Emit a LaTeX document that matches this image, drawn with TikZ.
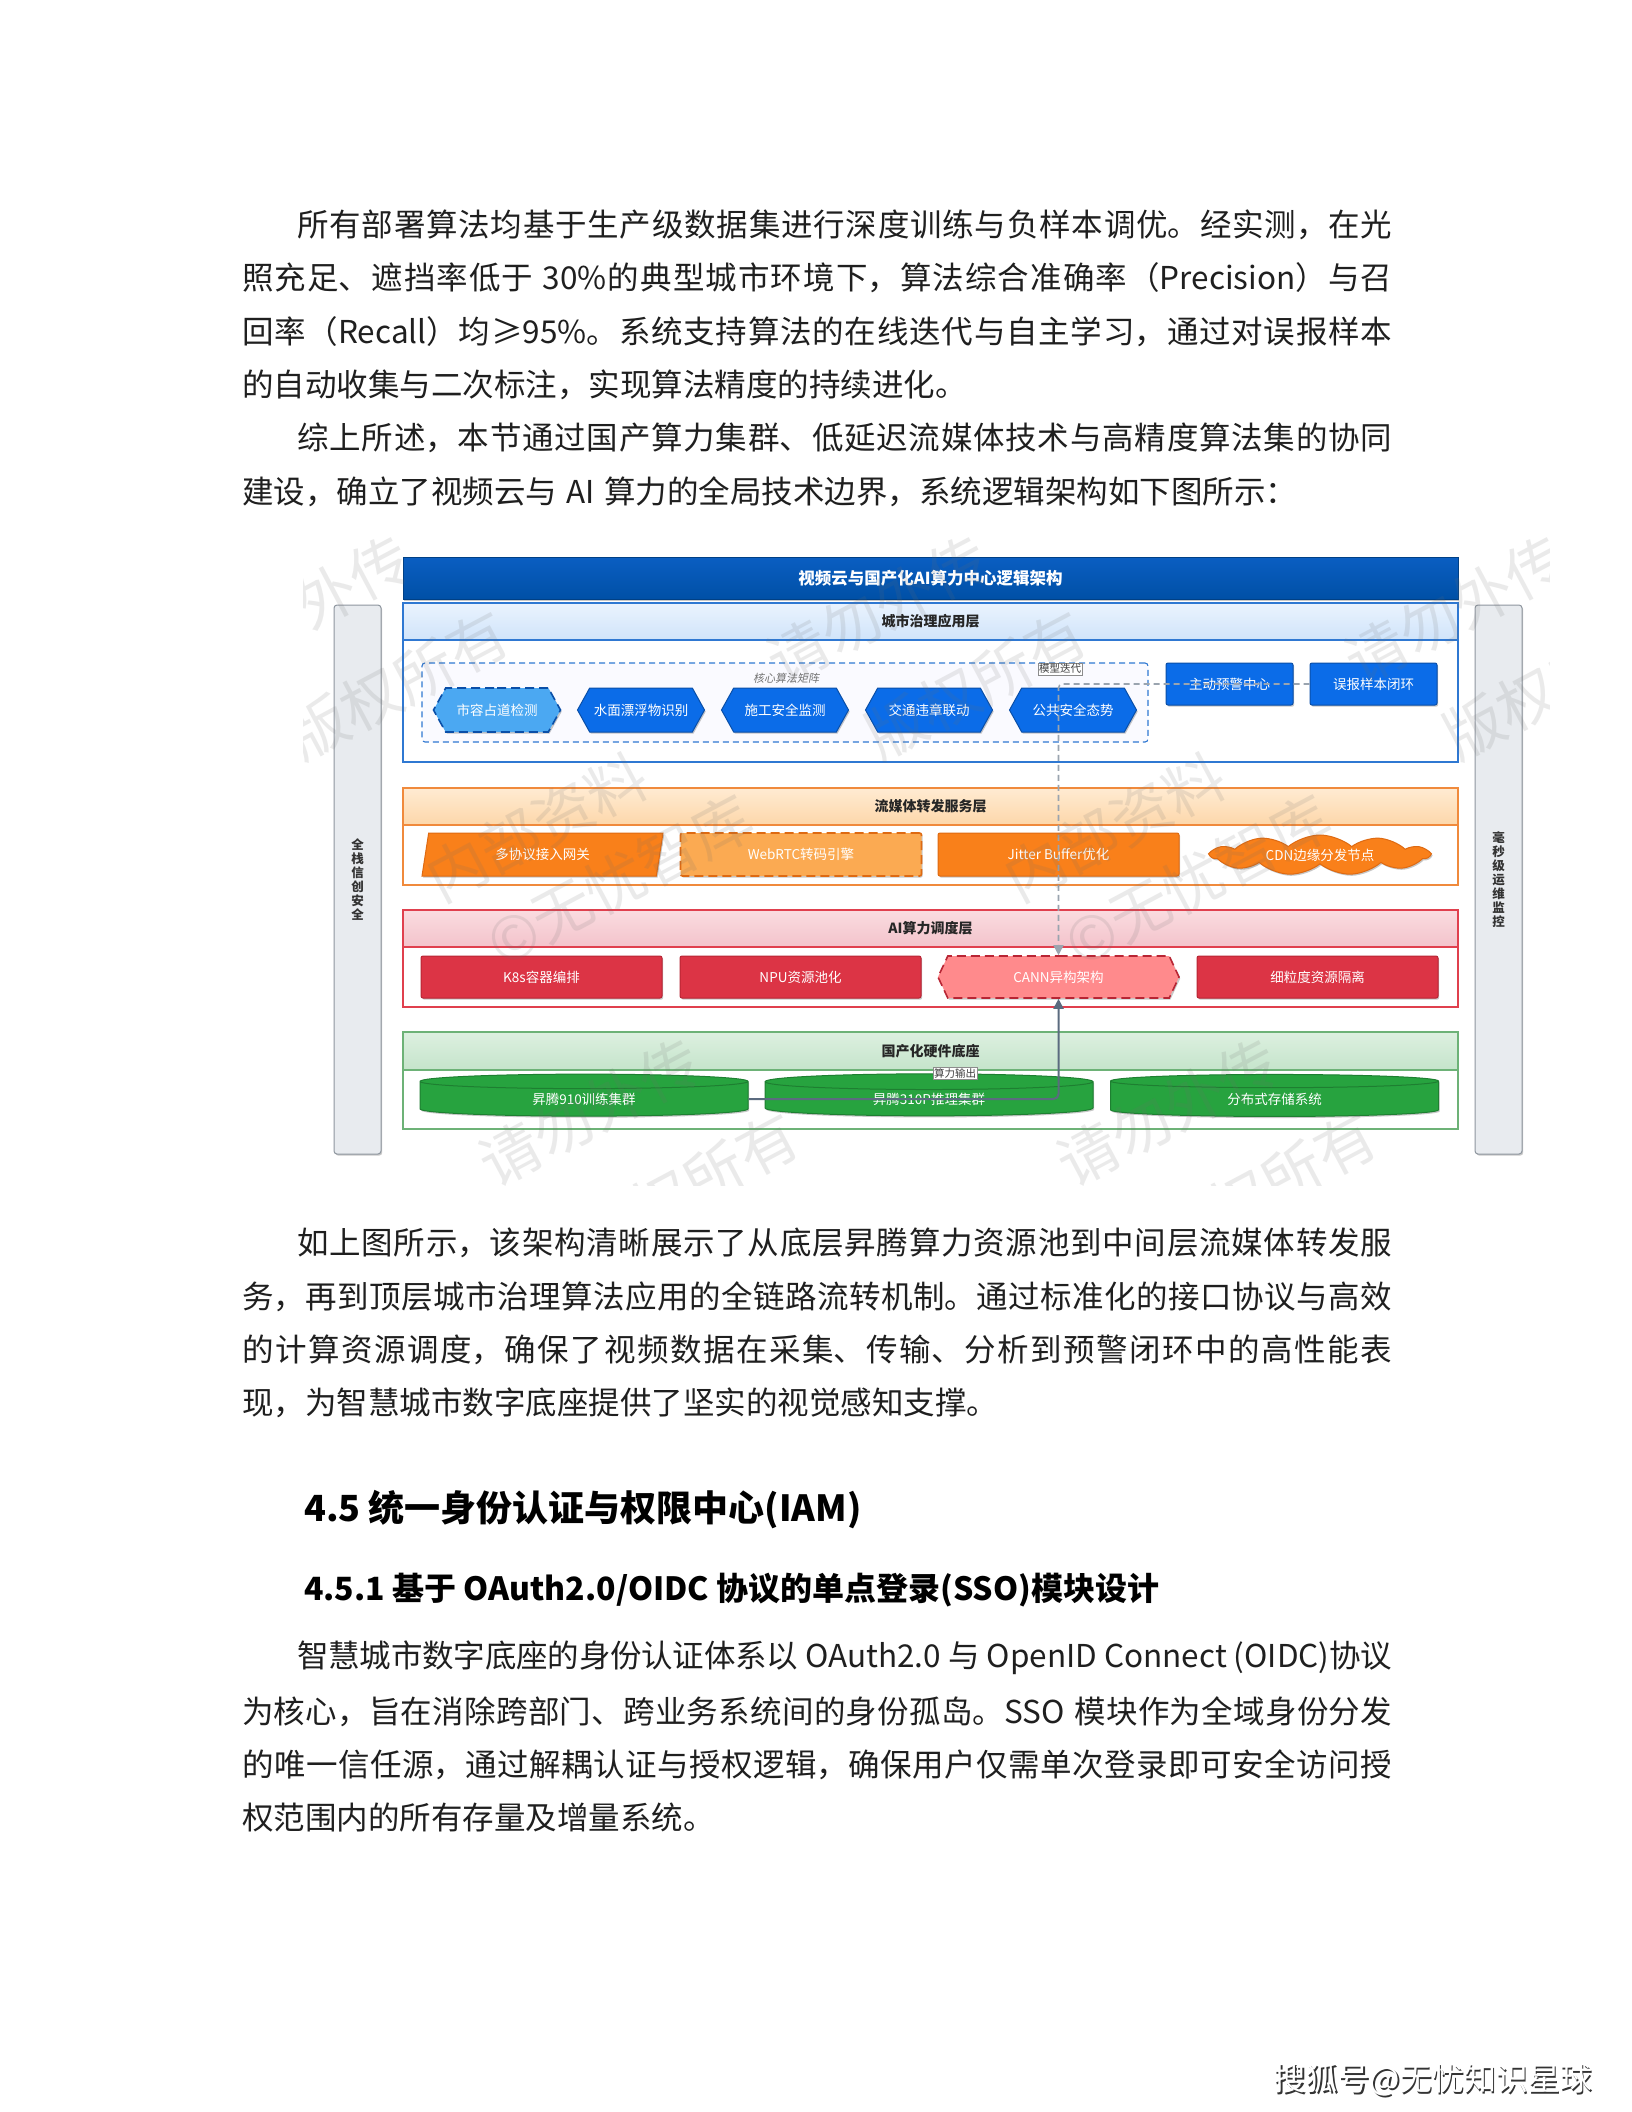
\documentclass[tikz,border=0pt]{standalone}
\usepackage{fontspec}
\setmainfont{Noto Sans CJK SC}
\newfontfamily\cjk{Noto Sans CJK SC}
\newfontfamily\cjkslant{Noto Sans CJK SC}[FakeSlant=0.2]
\usetikzlibrary{positioning, arrows.meta, shapes.geometric, shapes.symbols, shadows}
\XeTeXlinebreaklocale "zh"
\XeTeXlinebreakskip=0pt plus 4pt minus 0.5pt
\newcommand\tightspace{\spaceskip 0.3em plus 0.5pt minus 0.2em\relax}
% one justified line of body text, never broken
\newcommand\fullline[2]{\parbox{#1}{\parindent=0pt\parfillskip=0pt\XeTeXlinebreakpenalty=10000
  \tightspace\leavevmode #2}}
\definecolor{titletop}{HTML}{0A5EC2}
\definecolor{titlebot}{HTML}{0050A6}
\definecolor{govline}{HTML}{2F78D2}
\definecolor{govtop}{HTML}{EAF3FE}
\definecolor{govbot}{HTML}{D0E4FA}
\definecolor{algofill}{HTML}{0B6CE8}
\definecolor{algoline}{HTML}{0A4FA8}
\definecolor{algolite}{HTML}{4BA8F2}
\definecolor{streamline}{HTML}{F08A3C}
\definecolor{streamtop}{HTML}{FFEBD2}
\definecolor{streambot}{HTML}{FDD7AA}
\definecolor{streamfill}{HTML}{F9801A}
\definecolor{streamdark}{HTML}{DE6A12}
\definecolor{streamlite}{HTML}{FBAA52}
\definecolor{computeline}{HTML}{E0404E}
\definecolor{computetop}{HTML}{FADCE0}
\definecolor{computebot}{HTML}{F3C3CB}
\definecolor{computefill}{HTML}{DC3445}
\definecolor{computedark}{HTML}{B82534}
\definecolor{computelite}{HTML}{FF8A8C}
\definecolor{hwline}{HTML}{6DB277}
\definecolor{hwtop}{HTML}{DDF0E0}
\definecolor{hwbot}{HTML}{C5E4CB}
\definecolor{hwfill}{HTML}{27A33F}
\definecolor{hwdark}{HTML}{1E7F31}
\definecolor{barfill}{HTML}{E8EBEF}
\definecolor{barline}{HTML}{8E969F}
\definecolor{iterline}{HTML}{9AA4AF}
\definecolor{powerline}{HTML}{5B6B7F}
\definecolor{markgray}{HTML}{6E6E6E}

\begin{document}
\begin{tikzpicture}[x=1pt, y=-1pt,
  every node/.style={font=\cjk},
  softshadow/.style={drop shadow={shadow xshift=1.2pt, shadow yshift=-1.6pt, opacity=0.22, fill=black}},
  bodyline/.style={anchor=west, inner sep=0, text=black!88,
                   font=\cjk\fontsize{31.5}{54}\selectfont\tightspace},
  headline/.style={anchor=west, inner sep=0},
  watermark/.style={rotate=28, text=markgray, opacity=0.14, inner sep=0,
                    font=\cjk\fontsize{60}{62}\selectfont},
  titlebar/.style={minimum width=1055, minimum height=42, inner sep=0, top color=titletop,
                   bottom color=titlebot, draw=titlebot!80!black, text=white,
                   font=\cjk\bfseries\fontsize{16.5}{18}\selectfont, softshadow},
  layerbody/.style={draw=#1, line width=1.1pt, fill=white, minimum width=1055, inner sep=0},
  layerhead/.style={draw=#1, line width=1.1pt, minimum width=1055, inner sep=0,
                    font=\cjk\bfseries\fontsize{14}{16}\selectfont, text=black!85},
  sidebar/.style={draw=barline, fill=barfill, rounded corners=3, line width=1pt,
                  minimum width=47, minimum height=549, align=center, inner sep=0,
                  font=\cjk\bfseries\fontsize{12.5}{14}\selectfont, text=black!80, softshadow},
  matrixbox/.style={draw=govline, dashed, dash pattern=on 6pt off 4pt, line width=1.1pt,
                    rounded corners=3, fill=blue!2, minimum width=726, minimum height=79},
  mattitle/.style={font=\cjkslant\fontsize{11}{12}\selectfont, text=black!55, inner sep=1},
  algo/.style={signal, signal to=west and east, signal pointer angle=122, minimum width=127,
               minimum height=44, inner sep=0, fill=algofill, draw=algoline, line width=1pt,
               text=white, font=\cjk\fontsize{13.5}{15}\selectfont, softshadow},
  algolight/.style={algo, fill=algolite, draw=algoline, dashed, dash pattern=on 9pt off 5pt,
                    line width=1.6pt},
  appbox/.style={rectangle, rounded corners=2, minimum width=127, minimum height=42, inner sep=0,
                 fill=algofill, draw=algoline, line width=1pt, text=white,
                 font=\cjk\fontsize{13.5}{15}\selectfont, softshadow},
  streambox/.style={rectangle, rounded corners=2, minimum width=241, minimum height=43, inner sep=0,
                    fill=streamfill, draw=streamdark, line width=1pt, text=white,
                    font=\cjk\fontsize{13.5}{15}\selectfont, softshadow},
  gateway/.style={streambox, trapezium, trapezium left angle=62, trapezium right angle=118,
                  trapezium stretches body, rounded corners=0},
  edgecloud/.style={cloud, cloud puffs=11, cloud puff arc=80, cloud ignores aspect,
                    minimum width=218, minimum height=40, inner sep=0, fill=streamfill,
                    draw=streamdark, line width=1pt, text=white,
                    font=\cjk\fontsize{13.5}{15}\selectfont, softshadow},
  computebox/.style={rectangle, rounded corners=2, minimum width=241, minimum height=42, inner sep=0,
                     fill=computefill, draw=computedark, line width=1pt, text=white,
                     font=\cjk\fontsize{13.5}{15}\selectfont, softshadow},
  cannbox/.style={algo, minimum width=241, minimum height=42, signal pointer angle=130,
                  fill=computelite, draw=computedark, dashed, dash pattern=on 9pt off 5pt, line width=1.6pt},
  cluster/.style={cylinder, shape border rotate=90, aspect=0.14, minimum width=328, minimum height=42,
                  inner sep=0, fill=hwfill, draw=hwdark, line width=1pt, text=white,
                  font=\cjk\fontsize{13.5}{15}\selectfont, softshadow},
  flowtag/.style={draw=black!45, fill=white, inner sep=1.2, line width=0.6pt,
                  font=\cjk\fontsize{10.5}{11}\selectfont, text=black!75},
  iterflow/.style={draw=iterline, line width=1.6pt, dash pattern=on 6pt off 4pt, rounded corners=4,
                   -{Triangle[length=10pt,width=10pt]}},
  powerflow/.style={draw=powerline, line width=2pt, rounded corners=5,
                    -{Triangle[length=10pt,width=10pt]}},
  credit/.style={font=\cjk\fontsize{32}{34}\selectfont, inner sep=0},
]
\useasboundingbox[fill=white] (0,0) rectangle (1632,2112);

% ---------- text above the figure ----------
\node[bodyline] (p1a) at (297,225) {\fullline{1095pt}{所有部署算法均基于生产级数据集进行深度训练与负样本调优。经实测，在光}};
\node[bodyline] (p1b) at (242,278) {\fullline{1150pt}{照充足、遮挡率低于~30\%的典型城市环境下，算法综合准确率（Precision）与召}};
\node[bodyline] (p1c) at (242,332) {\fullline{1150pt}{回率（Recall）均≥95\%。系统支持算法的在线迭代与自主学习，通过对误报样本}};
\node[bodyline] (p1d) at (242,385) {的自动收集与二次标注，实现算法精度的持续进化。};
\node[bodyline] (p2a) at (297,438) {\fullline{1095pt}{综上所述，本节通过国产算力集群、低延迟流媒体技术与高精度算法集的协同}};
\node[bodyline] (p2b) at (242,492) {建设，确立了视频云与 AI 算力的全局技术边界，系统逻辑架构如下图所示：};

% ---------- side bars ----------
\node[sidebar] (leftbar) at (357.5,879.5) {全\\栈\\信\\创\\安\\全};
\node[sidebar] (rightbar) at (1498.5,879.5) {毫\\秒\\级\\运\\维\\监\\控};

% ---------- title ----------
\node[titlebar] (title) at (930.5,578) {视频云与国产化AI算力中心逻辑架构};

% ---------- layer 1: city governance ----------
\node[layerbody=govline, minimum height=159] (govlayer) at (930.5,682.5) {};
\node[layerhead=govline, top color=govtop, bottom color=govbot, minimum height=37] (govhead) at (930.5,621.5) {城市治理应用层};
\node[matrixbox] (algbox) at (785,702.5) {};
\node[mattitle] (algtitle) at (786,678) {核心算法矩阵};
\node[algolight] (occupy) at (497,710) {市容占道检测};
\node[algo] (float) at (641,710) {水面漂浮物识别};
\node[algo] (build) at (785,710) {施工安全监测};
\node[algo] (traffic) at (929,710) {交通违章联动};
\node[algo] (public) at (1073,710) {公共安全态势};
\node[appbox] (alert) at (1229.5,684) {主动预警中心};
\node[appbox] (fbloop) at (1373.5,684) {误报样本闭环};

% ---------- layer 2: streaming ----------
\node[layerbody=streamline, minimum height=97] (streamlayer) at (930.5,836.5) {};
\node[layerhead=streamline, top color=streamtop, bottom color=streambot, minimum height=37] (streamhead) at (930.5,806.5) {流媒体转发服务层};
\node[gateway] (gate) at (542.5,854.5) {多协议接入网关};
\node[streambox, fill=streamlite, dashed, dash pattern=on 9pt off 5pt, line width=1.6pt] (webrtc) at (801,854.5) {WebRTC转码引擎};
\node[streambox] (jitter) at (1058.5,854.5) {Jitter Buffer优化};
\node[edgecloud] (cdn) at (1320,855) {CDN边缘分发节点};

% ---------- layer 3: AI compute scheduling ----------
\node[layerbody=computeline, minimum height=97] (computelayer) at (930.5,958.5) {};
\node[layerhead=computeline, top color=computetop, bottom color=computebot, minimum height=37] (computehead) at (930.5,928.5) {AI算力调度层};
\node[computebox] (k8s) at (541.5,977) {K8s容器编排};
\node[computebox] (npu) at (800.5,977) {NPU资源池化};
\node[cannbox] (cann) at (1058.5,977) {CANN异构架构};
\node[computebox] (isolate) at (1317.5,977) {细粒度资源隔离};

% ---------- layer 4: domestic hardware ----------
\node[layerbody=hwline, minimum height=97] (hwlayer) at (930.5,1080.5) {};
\node[layerhead=hwline, top color=hwtop, bottom color=hwbot, minimum height=38] (hwhead) at (930.5,1051) {国产化硬件底座};
\node[cluster] (train) at (584,1099) {昇腾910训练集群};
\node[cluster] (infer) at (929,1099) {昇腾310P推理集群};
\node[cluster] (storage) at (1274.5,1099) {分布式存储系统};

% ---------- connectors ----------
\draw[iterflow] (fbloop.west) -| (cann.north);
\node[flowtag] (itertag) at (1060,669) {模型迭代};
\draw[powerflow] (train.east) -| (cann.south);
\node[flowtag] (powertag) at (955,1073) {算力输出};

% ---------- watermark over the figure ----------
\begin{scope}
  \clip (303,532) rectangle (1549,1185);
  \foreach \mx/\my in {537/827, 1115/827} {
    \node[watermark] at (\mx,\my) {内部资料};
    \node[watermark] at (\mx+83,\my+53) {©无忧智库};
  }
  \foreach \mx/\my in {537/827, 1115/827, 247/325, 825/325, 1403/325} {
    \node[watermark] at (\mx+53,\my+285) {请勿外传};
    \node[watermark] at (\mx+151,\my+360) {版权所有};
  }
\end{scope}

% ---------- text below the figure ----------
\node[bodyline] (p3a) at (297,1243) {\fullline{1095pt}{如上图所示，该架构清晰展示了从底层昇腾算力资源池到中间层流媒体转发服}};
\node[bodyline] (p3b) at (242,1297) {\fullline{1150pt}{务，再到顶层城市治理算法应用的全链路流转机制。通过标准化的接口协议与高效}};
\node[bodyline] (p3c) at (242,1350) {\fullline{1150pt}{的计算资源调度，确保了视频数据在采集、传输、分析到预警闭环中的高性能表}};
\node[bodyline] (p3d) at (242,1403) {现，为智慧城市数字底座提供了坚实的视觉感知支撑。};

\node[headline, font=\cjk\bfseries\fontsize{36}{40}\selectfont] (sec45) at (304,1510) {4.5 统一身份认证与权限中心(IAM)};
\node[headline, font=\cjk\bfseries\fontsize{32}{38}\selectfont] (sec451) at (304,1590) {4.5.1 基于 OAuth2.0/OIDC 协议的单点登录(SSO)模块设计};

\node[bodyline] (p4a) at (297,1658) {\fullline{1095pt}{智慧城市数字底座的身份认证体系以~OAuth2.0~与~OpenID~Connect~(OIDC)协议}};
\node[bodyline] (p4b) at (242,1712) {\fullline{1150pt}{为核心，旨在消除跨部门、跨业务系统间的身份孤岛。SSO~模块作为全域身份分发}};
\node[bodyline] (p4c) at (242,1765) {\fullline{1150pt}{的唯一信任源，通过解耦认证与授权逻辑，确保用户仅需单次登录即可安全访问授}};
\node[bodyline] (p4d) at (242,1818) {权范围内的所有存量及增量系统。};

% ---------- footer credit ----------
\node[credit, text=black!80] (creditshade) at (1434.5,2082) {搜狐号@无忧知识星球};
\node[credit, text=white] (credit) at (1433,2080) {搜狐号@无忧知识星球};
\end{tikzpicture}
\end{document}
